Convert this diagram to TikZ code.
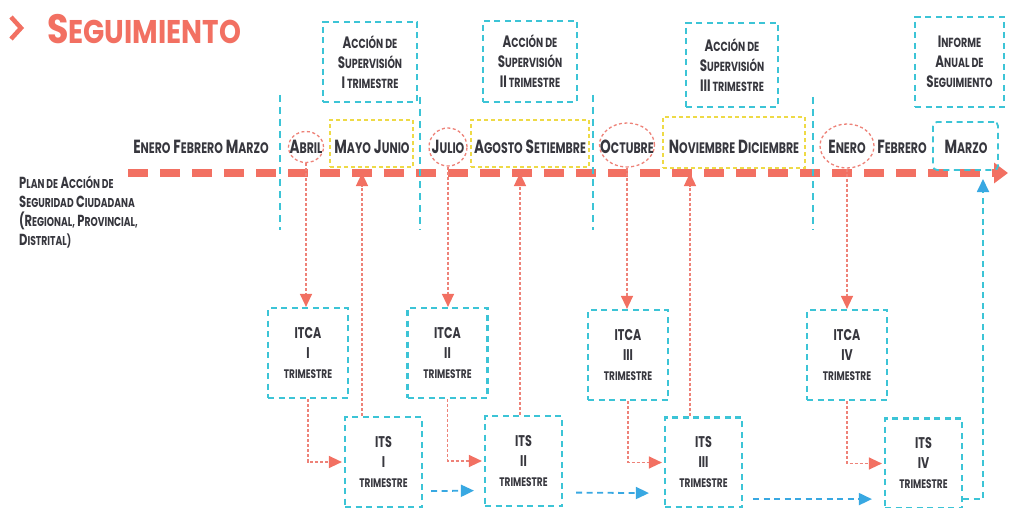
\documentclass[tikz,border=0pt]{standalone}
\usepackage{fontspec}
\setmainfont{Poppins}[FakeStretch=0.72]
\newfontfamily\titlefont{Poppins}[FakeStretch=0.85]
\usetikzlibrary{arrows.meta,shapes.geometric,calc}
\definecolor{salmon}{RGB}{242,112,98}
\definecolor{salmonL}{RGB}{238,130,120}
\definecolor{cyanB}{RGB}{60,196,214}
\definecolor{blueA}{RGB}{56,168,226}
\definecolor{yel}{RGB}{238,218,70}
\definecolor{txt}{RGB}{55,55,62}
\makeatletter
\newcommand\sm[1]{{\edef\smsz{\strip@pt\dimexpr\f@size pt*80/100\relax}\fontsize{\smsz}{\smsz}\selectfont #1}}
\makeatother
\newcommand\W[2]{#1\sm{#2}}
\begin{document}
\begin{tikzpicture}[x=1pt,y=-1pt,
 month/.style={font=\bfseries\fontsize{19}{19}\selectfont,text=txt,inner sep=0pt},
 cbox/.style={draw=cyanB,line width=2.2pt,dash pattern=on 6pt off 4.5pt,text=txt,align=center,inner sep=0pt},
 sbox/.style={cbox,font=\bfseries\fontsize{16.5}{20}\selectfont},
 ibox/.style={cbox,font=\bfseries\fontsize{15.5}{20}\selectfont,minimum width=80,minimum height=90},
 tbox/.style={ibox,minimum width=77},
 ell/.style={ellipse,draw=salmonL,line width=1.3pt,dash pattern=on 3pt off 2.5pt,inner sep=0pt},
 yrect/.style={draw=yel,line width=1.5pt,dash pattern=on 4pt off 3pt,inner sep=0pt},
 csep/.style={draw=cyanB,line width=2pt,dash pattern=on 7pt off 5pt},
 sarr/.style={draw=salmonL,line width=1.3pt,dash pattern=on 3pt off 2pt,-{Triangle[length=13pt,width=12pt,color=salmon]}},
 barr/.style={draw=blueA,line width=1.8pt,dash pattern=on 6pt off 4.5pt,-{Triangle[length=13pt,width=12pt]}},
 tline/.style={draw=salmon,line width=8pt,dash pattern=on 20pt off 12pt,-{Triangle[length=14pt,width=20pt]}}
]
\fill[white] (0,0) rectangle (1009,508);
\useasboundingbox (0,0) rectangle (1009,508);

% title
\draw[salmon,line width=4.5pt] (11,17) -- (21,28) -- (11,39);
\node[anchor=west,inner sep=0pt,text=salmon,font=\titlefont\bfseries\fontsize{41}{41}\selectfont] (title) at (47,29) {\W{S}{EGUIMIENTO}};

% timeline
\coordinate (tl0) at (128,173);
\coordinate (tl1) at (1008,173);
\draw[tline] (tl0) -- (tl1);

% separators
\draw[csep] (280,95) -- (280,230);
\draw[csep] (420,97) -- (420,230);
\draw[csep] (593,95) -- (593,230);
\draw[csep] (813,97) -- (813,230);

% top boxes
\node[sbox,minimum width=94,minimum height=80] (sup1) at (370,62) {\W{A}{CCIÓN DE}\\\W{S}{UPERVISIÓN}\\\W{I}{ TRIMESTRE}};
\node[sbox,minimum width=94,minimum height=81] (sup2) at (530,61.5) {\W{A}{CCIÓN DE}\\\W{S}{UPERVISIÓN}\\\W{II}{ TRIMESTRE}};
\node[sbox,minimum width=92,minimum height=84] (sup3) at (732,65) {\W{A}{CCIÓN DE}\\\W{S}{UPERVISIÓN}\\\W{III}{ TRIMESTRE}};
\node[sbox,minimum width=89,minimum height=90] (inf) at (959.5,62) {\W{I}{NFORME}\\\W{A}{NUAL DE}\\\W{S}{EGUIMIENTO}};

% months
\node[month] (m1) at (201,147) {\W{E}{NERO} \W{F}{EBRERO} \W{M}{ARZO}};
\node[ell,minimum width=35,minimum height=31] (abrilE) at (306,147) {};
\node[month] (abril) at (abrilE) {\W{A}{BRIL}};
\node[yrect,minimum width=83,minimum height=47] (ymj) at (371.5,143.5) {};
\node[month] (mj) at (372,147) {\W{M}{AYO} \W{J}{UNIO}};
\node[ell,minimum width=38,minimum height=38] (julioE) at (448,147) {};
\node[month] (julio) at (julioE) {\W{J}{ULIO}};
\node[yrect,minimum width=118,minimum height=47] (yas) at (530,143.5) {};
\node[month] (as) at (530,147) {\W{A}{GOSTO} \W{S}{ETIEMBRE}};
\node[ell,minimum width=55,minimum height=44] (octE) at (627,145) {};
\node[month] (oct) at (627,147) {\W{O}{CTUBRE}};
\node[yrect,minimum width=142,minimum height=51] (ynd) at (734,142.5) {};
\node[month] (nd) at (734,147) {\W{N}{OVIEMBRE} \W{D}{ICIEMBRE}};
\node[ell,minimum width=54,minimum height=44] (eneE) at (847,146) {};
\node[month] (ene) at (847,147) {\W{E}{NERO}};
\node[month] (feb) at (902,147) {\W{F}{EBRERO}};
\node[draw=cyanB,line width=1.8pt,dash pattern=on 6pt off 4.5pt,rounded corners=4pt,minimum width=65,minimum height=48,inner sep=0pt] (ymar) at (965.5,146) {};
\node[month] (mar) at (966,147) {\W{M}{ARZO}};

% left label
\node[anchor=west,align=left,text=txt,inner sep=0pt,font=\bfseries\fontsize{16}{18.8}\selectfont] (plan) at (19,212) {\W{P}{LAN DE} \W{A}{CCIÓN DE}\\\W{S}{EGURIDAD} \W{C}{IUDADANA}\\\W{(R}{EGIONAL,} \W{P}{ROVINCIAL,}\\\W{D}{ISTRITAL)}};

% lower boxes
\node[ibox] (itca1) at (308,353) {ITCA\\I\\\sm{TRIMESTRE}};
\node[ibox] (itca2) at (447.5,353) {ITCA\\II\\\sm{TRIMESTRE}};
\node[ibox] (itca3) at (628,355) {ITCA\\III\\\sm{TRIMESTRE}};
\node[ibox] (itca4) at (847,355) {ITCA\\IV\\\sm{TRIMESTRE}};
\node[tbox] (its1) at (383.5,462) {ITS\\I\\\sm{TRIMESTRE}};
\node[tbox] (its2) at (523.5,461) {ITS\\II\\\sm{TRIMESTRE}};
\node[tbox] (its3) at (703.5,462.5) {ITS\\III\\\sm{TRIMESTRE}};
\node[tbox] (its4) at (923.5,463.5) {ITS\\IV\\\sm{TRIMESTRE}};

% down arrows
\draw[sarr] (abrilE.south) -- (abrilE.south |- itca1.north);
\draw[sarr] (julioE.south) -- (julioE.south |- itca2.north);
\draw[sarr] (octE.south) -- (octE.south |- itca3.north);
\draw[sarr] (eneE.south) -- (eneE.south |- itca4.north);
% itca -> its
\draw[sarr,shorten >=2pt] (itca1.south) |- (its1.west);
\draw[sarr,shorten >=2pt] (itca2.south) |- (its2.west);
\draw[sarr,shorten >=2pt] (itca3.south) |- (its3.west);
\draw[sarr,shorten >=2pt] (itca4.south) |- (its4.west);
% up arrows
\coordinate (u1) at (362,173);
\coordinate (u2) at (520,173);
\coordinate (u3) at (690,173);
\draw[sarr] (its1.north -| u1) -- (u1);
\draw[sarr] (its2.north -| u2) -- (u2);
\draw[sarr] (its3.north -| u3) -- (u3);
% blue arrows
\draw[barr] ($(its1.south east)+(8,-17)$) -- ($(its2.south west)+(-10,-16.5)$);
\draw[barr] ($(its2.south east)+(13,-14.5)$) -- ($(its3.south west)+(-15,-15.5)$);
\draw[barr] ($(its3.south east)+(10,-9.5)$) -- ($(its4.south west)+(-12,-10.5)$);
\coordinate (bTop) at (983,179);
\draw[barr,draw=cyanB,-{Triangle[length=13pt,width=12pt,color=blueA]}] ($(its4.south east)+(0,-11)$) -| (bTop);
\end{tikzpicture}
\end{document}
